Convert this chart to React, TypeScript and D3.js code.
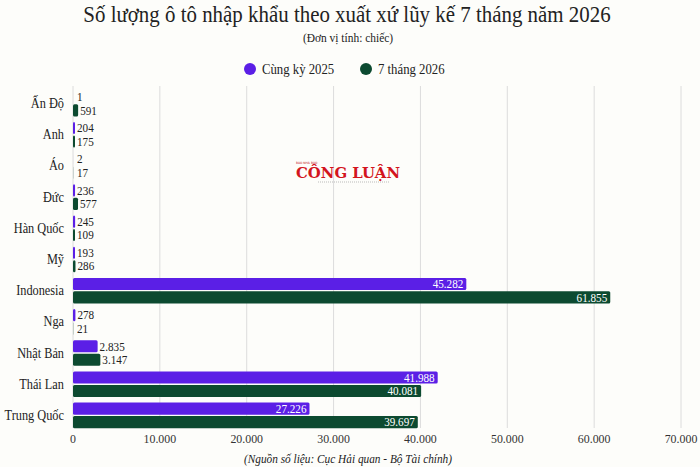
import { useEffect, useRef } from "react";
import * as d3 from "d3";

const countries = [
  "Ấn Độ",
  "Anh",
  "Áo",
  "Đức",
  "Hàn Quốc",
  "Mỹ",
  "Indonesia",
  "Nga",
  "Nhật Bản",
  "Thái Lan",
  "Trung Quốc",
];
const prevYear = [1, 204, 2, 236, 245, 193, 45282, 278, 2835, 41988, 27226];
const thisYear = [591, 175, 17, 577, 109, 286, 61855, 21, 3147, 40081, 39697];
const seriesNames = ["Cùng kỳ 2025", "7 tháng 2026"];
const xTicks = [0, 10000, 20000, 30000, 40000, 50000, 60000, 70000];

const COLORS = ["#5b1fe6", "#0c4a30"];
const FONT = "'Liberation Serif', 'Times New Roman', serif";
// the reference uses a narrow serif, so glyphs get squeezed horizontally
const SQUEEZE = 0.9;

type Sel = d3.Selection<any, unknown, null, undefined>;

function addText(
  parent: Sel,
  x: number,
  y: number,
  label: string,
  size: number,
  opts: { anchor?: string; fill?: string; italic?: boolean; sx?: number } = {}
) {
  return parent
    .append("text")
    .attr("transform", `translate(${x},${y}) scale(${opts.sx ?? SQUEEZE},1)`)
    .attr("text-anchor", opts.anchor ?? "start")
    .attr("font-family", FONT)
    .attr("font-style", opts.italic ? "italic" : "normal")
    .attr("font-size", size)
    .attr("fill", opts.fill ?? "#222")
    .text(label);
}

export default function App() {
  const svgRef = useRef<SVGSVGElement>(null);

  useEffect(() => {
    if (!svgRef.current) return;
    const W = 700;
    const H = 467;

    d3.select(svgRef.current).selectAll("*").remove();
    const svg = d3.select(svgRef.current) as Sel;

    const fmt = d3.formatLocale({
      decimal: ",",
      thousands: ".",
      grouping: [3],
      currency: ["", ""],
    }).format(",d");

    // Background
    svg.append("rect").attr("width", W).attr("height", H).attr("fill", "#fdfdfa");

    // Titles
    addText(svg, 347, 22, "Số lượng ô tô nhập khẩu theo xuất xứ lũy kế 7 tháng năm 2026", 23.5, {
      anchor: "middle",
      sx: 0.89,
    });
    addText(svg, 348, 42, "(Đơn vị tính: chiếc)", 13, { anchor: "middle", sx: 0.88 });

    // Legend
    const legendX = [250, 366];
    seriesNames.forEach((name, i) => {
      svg
        .append("circle")
        .attr("cx", legendX[i])
        .attr("cy", 69)
        .attr("r", 6)
        .attr("fill", COLORS[i]);
      addText(svg, legendX[i] + 12, 73.5, name, 14.5, { sx: 0.88 });
    });

    // Scales
    const x = d3.scaleLinear().domain([0, 70000]).range([73, 681]);
    const y = d3
      .scaleBand()
      .domain(countries)
      .range([88, 431])
      .paddingInner(0.18)
      .paddingOuter(0.09);
    const inner = d3
      .scaleBand()
      .domain(["0", "1"])
      .range([0, y.bandwidth()])
      .paddingInner(0.1);

    // Grid
    svg
      .append("g")
      .selectAll("line")
      .data(xTicks)
      .enter()
      .append("line")
      .attr("x1", (d) => x(d))
      .attr("x2", (d) => x(d))
      .attr("y1", 86)
      .attr("y2", 428)
      .attr("stroke", "#dcdcdc")
      .attr("stroke-width", 1);

    // Watermark logo
    const logo = svg.append("g").attr("transform", "translate(296,161)");
    logo
      .append("text")
      .attr("x", 0)
      .attr("y", 3)
      .attr("font-family", "'DejaVu Sans', sans-serif")
      .attr("font-size", 3)
      .attr("fill", "#c1121a")
      .text("BÁO NHÀ BÁO");
    logo
      .append("text")
      .attr("x", 0)
      .attr("y", 17)
      .attr("font-family", "'DejaVu Serif', serif")
      .attr("font-weight", "bold")
      .attr("font-size", 14)
      .attr("textLength", 104)
      .attr("lengthAdjust", "spacingAndGlyphs")
      .attr("fill", "#d3151d")
      .text("CÔNG LUẬN");
    logo
      .append("line")
      .attr("x1", 22)
      .attr("x2", 94)
      .attr("y1", 21)
      .attr("y2", 21)
      .attr("stroke", "#aaa")
      .attr("stroke-width", 0.8)
      .attr("stroke-dasharray", "1,1");

    // X axis labels
    const xg = svg.append("g");
    xTicks.forEach((t) => {
      addText(xg, x(t), 443, fmt(t), 13.5, { anchor: "middle", sx: 0.88, fill: "#333" });
    });

    // Y labels
    const yg = svg.append("g");
    countries.forEach((c) => {
      addText(yg, 64, y(c)! + y.bandwidth() / 2 + 4.5, c, 14, { anchor: "end", sx: 0.88 });
    });

    // Bars
    [prevYear, thisYear].forEach((values, s) => {
      const g = svg.append("g");
      const rows = countries.map((c, i) => ({ c, v: values[i] }));
      g.selectAll("rect")
        .data(rows)
        .enter()
        .append("rect")
        .attr("x", x(0))
        .attr("y", (d) => y(d.c)! + inner(String(s))!)
        .attr("width", (d) => Math.max(x(d.v) - x(0), d.v > 50 ? 2 : 0))
        .attr("height", inner.bandwidth())
        .attr("rx", 1.5)
        .attr("fill", COLORS[s]);

      const lg = svg.append("g");
      rows.forEach((d) => {
        const inside = d.v > 10000;
        const ly = y(d.c)! + inner(String(s))! + inner.bandwidth() / 2 + 4.2;
        const lx = inside ? x(d.v) - 3 : Math.max(x(d.v), x(0) + 2) + 2;
        addText(lg, lx, ly, fmt(d.v), 12, {
          anchor: inside ? "end" : "start",
          fill: inside ? "#fff" : "#222",
          sx: 0.93,
        });
      });
    });

    // Source
    addText(svg, 348, 463, "(Nguồn số liệu: Cục Hải quan - Bộ Tài chính)", 13, {
      anchor: "middle",
      italic: true,
      sx: 0.87,
    });
  }, []);

  return (
    <svg
      ref={svgRef}
      width={700}
      height={467}
      style={{ position: "absolute", left: 0, top: 0, display: "block" }}
    />
  );
}
